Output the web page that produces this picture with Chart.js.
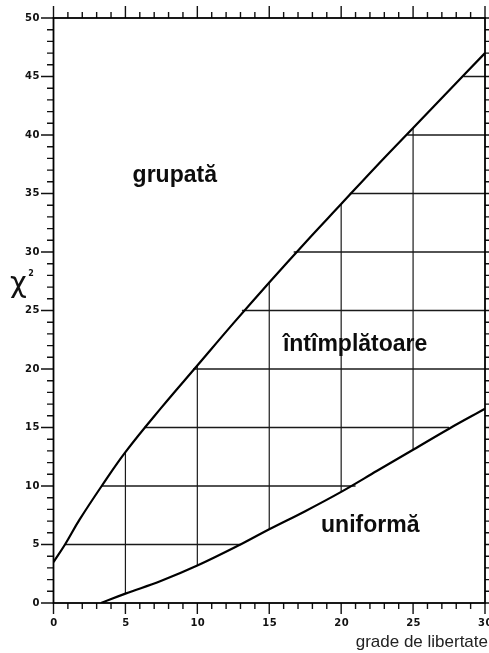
<!DOCTYPE html>
<html>
<head>
<meta charset="utf-8">
<script src="https://cdn.jsdelivr.net/npm/chart.js@4/dist/chart.umd.min.js"></script>
<style>
  html, body { margin: 0; padding: 0; background: #fff; }
  .div__grafico { width: 489px; height: 653px; }
</style>
</head>
<body>
<div class="div__grafico"><canvas id="grafic"></canvas></div>
<script>
// curba superioara (limita grupata / intamplatoare)
const gradeSus = [0, 0.8, 1.8, 3.35, 5, 7.5, 10, 12.5, 15, 17.5, 20, 22.5, 25, 27.5, 30]
const chiSus = [3.5, 5, 7.1, 10, 12.9, 16.7, 20.3, 23.9, 27.4, 30.8, 34.1, 37.4, 40.6, 43.8, 47.0]

// curba inferioara (limita intamplatoare / uniforma)
const gradeJos = [3.3, 5, 7.5, 10, 13, 15, 17.5, 20, 22.5, 25, 27.5, 30]
const chiJos = [0, 0.8, 1.9, 3.2, 5.0, 6.3, 7.85, 9.5, 11.3, 13.1, 14.9, 16.6]

// linii orizontale din zona intamplatoare: nivel, inceput, sfarsit
const nivelOriz = [5, 10, 15, 20, 25, 30, 35, 40, 45]
const startOriz = [0.8, 3.35, 6.3, 9.7, 13.1, 16.7, 20.6, 24.6, 28.5]
const stopOriz = [13.0, 21.0, 27.5, 30, 30, 30, 30, 30, 30]

// linii verticale: grad, jos, sus
const gradVert = [5, 10, 15, 20, 25]
const josVert = [0.8, 3.2, 6.3, 9.5, 13.1]
const susVert = [12.9, 20.3, 27.4, 34.1, 40.6]

const etichetePozitie = [
  { text: 'grupată', x: 5.5, y: 36.0 },
  { text: 'întîmplătoare', x: 15.95, y: 21.5 },
  { text: 'uniformă', x: 18.6, y: 6.05 }
]

const linie = (xs, ys) => xs.map((v, i) => ({ x: v, y: ys[i] }))

const seturi = [
  {
    data: linie(gradeSus, chiSus),
    borderColor: '#000', borderWidth: 2.2, tension: 0.4
  },
  {
    data: linie(gradeJos, chiJos),
    borderColor: '#000', borderWidth: 2.2, tension: 0.4
  }
]
nivelOriz.forEach((n, i) => {
  seturi.push({
    data: [{ x: startOriz[i], y: n }, { x: stopOriz[i], y: n }],
    borderColor: '#1a1a1a', borderWidth: 1.4
  })
})
gradVert.forEach((g, i) => {
  seturi.push({
    data: [{ x: g, y: josVert[i] }, { x: g, y: susVert[i] }],
    borderColor: '#1a1a1a', borderWidth: 1.2
  })
})
seturi.forEach(s => {
  s.showLine = true
  s.pointRadius = 0
  s.fill = false
})

// rama, gradatiile si textele
const ramaGrafic = {
  id: 'ramaGrafic',
  afterDraw(chart) {
    const { ctx, chartArea: a, scales: { x, y } } = chart
    ctx.save()
    ctx.strokeStyle = '#111'
    ctx.lineWidth = 1.4
    ctx.beginPath()
    for (let v = 0; v <= 30; v++) {
      const px = x.getPixelForValue(v)
      const mare = v % 5 === 0
      ctx.moveTo(px, a.top)
      ctx.lineTo(px, a.top - (mare ? 12 : 6))
      ctx.moveTo(px, a.bottom)
      ctx.lineTo(px, a.bottom + (mare ? 11 : 6))
    }
    for (let v = 0; v <= 50; v++) {
      const py = y.getPixelForValue(v)
      const mare = v % 5 === 0
      ctx.moveTo(a.left, py)
      ctx.lineTo(a.left - (mare ? 12.5 : 6.5), py)
      ctx.moveTo(a.right, py)
      ctx.lineTo(a.right + (mare ? 8 : 5), py)
    }
    ctx.stroke()

    ctx.lineWidth = 1.8
    ctx.strokeStyle = '#000'
    ctx.strokeRect(a.left, a.top, a.right - a.left, a.bottom - a.top)

    ctx.fillStyle = '#111'
    ctx.font = 'bold 10px "DejaVu Sans"'
    ctx.letterSpacing = '0.5px'
    ctx.textBaseline = 'middle'
    ctx.textAlign = 'right'
    for (let v = 0; v <= 50; v += 5) {
      ctx.fillText(String(v), 40, y.getPixelForValue(v))
    }
    ctx.textAlign = 'center'
    for (let v = 0; v <= 30; v += 5) {
      ctx.fillText(String(v), x.getPixelForValue(v) + 0.5, a.bottom + 20)
    }
    ctx.letterSpacing = '0px'

    ctx.font = 'bold 23px "Liberation Sans"'
    ctx.textAlign = 'left'
    ctx.textBaseline = 'alphabetic'
    ctx.fillStyle = '#0d0d0d'
    etichetePozitie.forEach(e => {
      ctx.fillText(e.text, x.getPixelForValue(e.x), y.getPixelForValue(e.y))
    })

    ctx.font = '17px "Liberation Sans"'
    ctx.textAlign = 'right'
    ctx.fillStyle = '#222'
    ctx.fillText('grade de libertate', 488, 647)

    ctx.font = '29px "DejaVu Sans"'
    ctx.textAlign = 'center'
    ctx.fillStyle = '#111'
    ctx.fillText('χ', 18.5, 292)
    ctx.font = 'bold 8px "DejaVu Sans"'
    ctx.fillText('2', 31, 276)
    ctx.restore()
  }
}

new Chart(document.getElementById('grafic'), {
  type: 'scatter',
  data: { datasets: seturi },
  options: {
    responsive: true,
    maintainAspectRatio: false,
    animation: false,
    layout: { padding: { left: 53.5, right: 4, top: 18, bottom: 50 } },
    scales: {
      x: {
        type: 'linear', min: 0, max: 30,
        ticks: { display: false },
        grid: { display: false, drawTicks: false },
        border: { display: false }
      },
      y: {
        type: 'linear', min: 0, max: 50,
        ticks: { display: false },
        grid: { display: false, drawTicks: false },
        border: { display: false }
      }
    },
    plugins: {
      legend: { display: false },
      tooltip: { enabled: false }
    }
  },
  plugins: [ramaGrafic]
})
</script>
</body>
</html>
